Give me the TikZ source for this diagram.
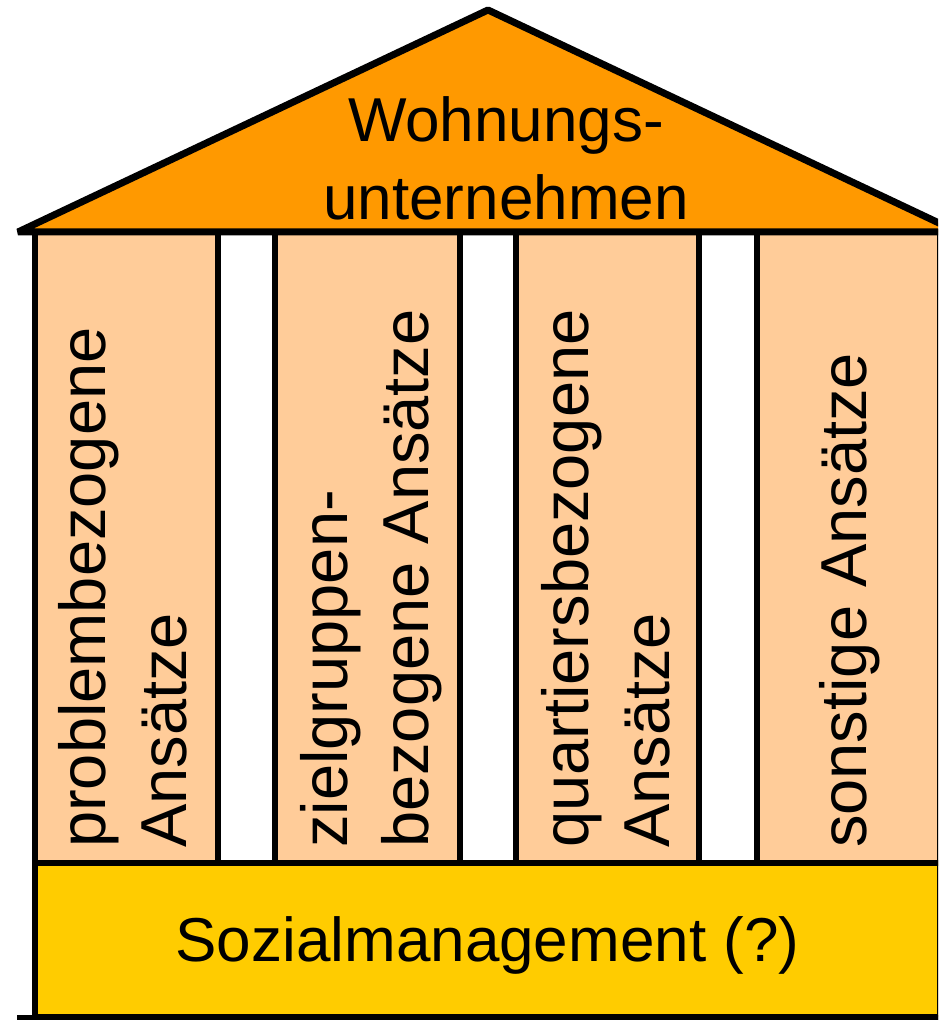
\documentclass[tikz,border=0pt]{standalone}
\usepackage{fontspec}
\setmainfont{Liberation Sans}
\definecolor{roofcol}{HTML}{FF9900}
\definecolor{pillarcol}{HTML}{FFCC99}
\definecolor{basecol}{HTML}{FFCC00}
\begin{document}
\begin{tikzpicture}[x=1pt,y=1pt,
	pillar/.style={draw=black,line width=6pt,fill=pillarcol},
	pillartext/.style={inner sep=0pt,rotate=90,anchor=base west,align=left,font=\fontsize{65}{81}\selectfont}]
	\useasboundingbox (0,0) rectangle (938,1020);
	\clip (0,0) rectangle (938,1020);
	
	%pillars
	\draw[pillar] (35,157) rectangle (218,788);
	\draw[pillar] (275,157) rectangle (460,788);
	\draw[pillar] (516,157) rectangle (699,788);
	\draw[pillar] (757,157) rectangle (940,788);
	%foundation
	\draw[line width=6pt,fill=basecol] (35,3) rectangle (940,157);
	\draw[line width=6pt] (17,2) -- (945,2);
	%roof
	\draw[line width=7pt,line join=bevel,fill=roofcol] (18,788) -- (488,1010) -- (958,788) -- cycle;
	%labels
	\node[inner sep=0pt,anchor=base,align=center,font=\fontsize{62}{78}\selectfont](roof) at (506,800) {Wohnungs-\\unternehmen};
	\node[pillartext](problem) at (186,172) {problembezogene\\Ansätze};
	\node[pillartext](ziel) at (428,172) {zielgruppen-\\bezogene Ansätze};
	\node[pillartext](quartier) at (669,172) {quartiersbezogene\\Ansätze};
	\node[pillartext](sonstig) at (866,172) {sonstige Ansätze};
	\node[inner sep=0pt,anchor=base,font=\fontsize{62}{78}\selectfont](sozial) at (487.5,58) {Sozialmanagement (?)};
\end{tikzpicture}
\end{document}
